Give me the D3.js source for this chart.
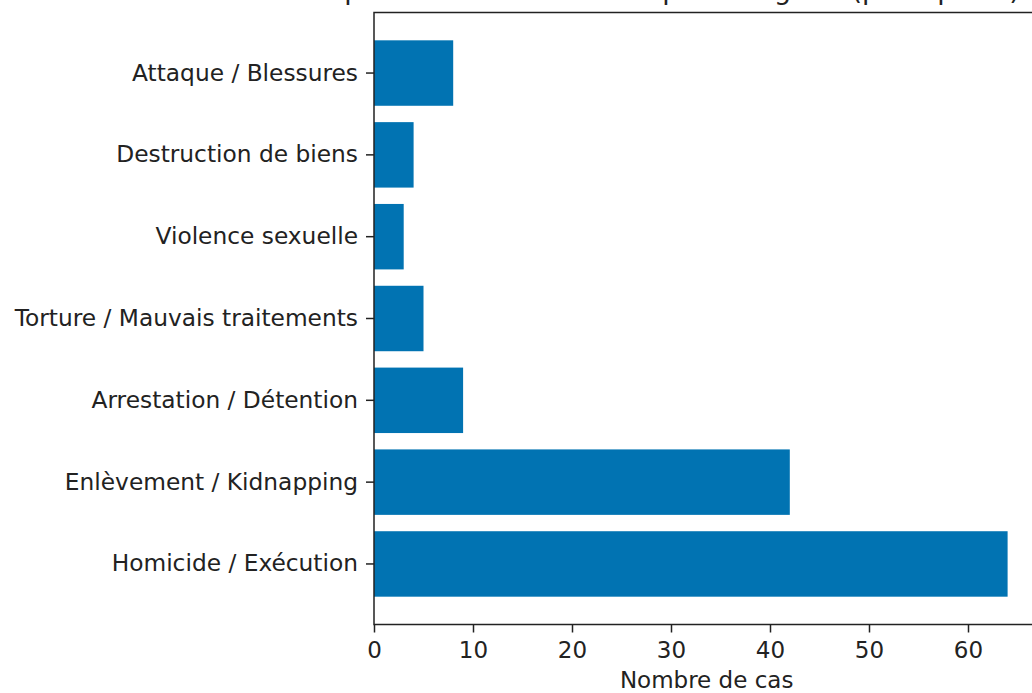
<!DOCTYPE html>
<html>
<head>
<meta charset="utf-8">
<script src="https://cdn.jsdelivr.net/npm/d3@7"></script>
<style>
  html, body { margin: 0; padding: 0; background: #fff; }
  svg { display: block; font-family: "DejaVu Sans", sans-serif; }
</style>
</head>
<body>
<svg id="chart" width="1032" height="693"></svg>
<script>
const categories = [
  "Homicide / Exécution",
  "Enlèvement / Kidnapping",
  "Arrestation / Détention",
  "Torture / Mauvais traitements",
  "Violence sexuelle",
  "Destruction de biens",
  "Attaque / Blessures"
];
const values = [64, 42, 9, 5, 3, 4, 8];
const xTicks = [0, 10, 20, 30, 40, 50, 60];
const titleText = "Répartition des violations par catégorie (principales)";
const xLabel = "Nombre de cas";

const svg = d3.select("#chart");
const plotLeft = 374, plotTop = 12.5, plotBottom = 624.5;
const x = d3.scaleLinear().domain([0, 67.2]).range([plotLeft, plotLeft + 67.2 * 9.9]);
const y = d3.scaleBand().domain(categories.slice().reverse()).range([plotTop, plotBottom])
  .paddingInner(0.2).paddingOuter(0.34);

const textColor = "#222";

// bars
svg.append("g").selectAll("rect").data(categories).join("rect")
  .attr("x", x(0))
  .attr("y", d => y(d))
  .attr("width", (d, i) => x(values[i]) - x(0))
  .attr("height", y.bandwidth())
  .attr("fill", "#0173b2");

// axes
const xAxis = d3.axisBottom(x).tickValues(xTicks).tickSize(8).tickPadding(9).tickFormat(d3.format("d"));
const gx = svg.append("g").attr("transform", `translate(0,${plotBottom})`).call(xAxis);
gx.select(".domain").remove();
gx.selectAll("line").attr("stroke", textColor).attr("stroke-width", 1.5);
gx.selectAll("text").attr("font-size", 23).attr("fill", textColor)
  .attr("font-family", "DejaVu Sans");

const yAxis = d3.axisLeft(y).tickSize(8).tickPadding(8);
const gy = svg.append("g").attr("transform", `translate(${plotLeft},0)`).call(yAxis);
gy.select(".domain").remove();
gy.selectAll("line").attr("stroke", textColor).attr("stroke-width", 1.5);
gy.selectAll("text").attr("font-size", 23.3).attr("fill", textColor)
  .attr("font-family", "DejaVu Sans");

// spines
const plotRight = x.range()[1];
svg.append("rect").attr("x", plotLeft).attr("y", plotTop).attr("width", plotRight - plotLeft).attr("height", plotBottom - plotTop)
  .attr("fill", "none").attr("stroke", textColor).attr("stroke-width", 1.5);

// axis label
svg.append("text").attr("x", (plotLeft + plotRight) / 2).attr("y", 688)
  .attr("text-anchor", "middle").attr("font-size", 23).attr("fill", textColor)
  .text(xLabel);

// title (partly cut off at top, as in the reference)
svg.append("text").attr("x", 310).attr("y", -1)
  .attr("text-anchor", "start").attr("font-size", 27).attr("fill", textColor)
  .text(titleText);
</script>
</body>
</html>
